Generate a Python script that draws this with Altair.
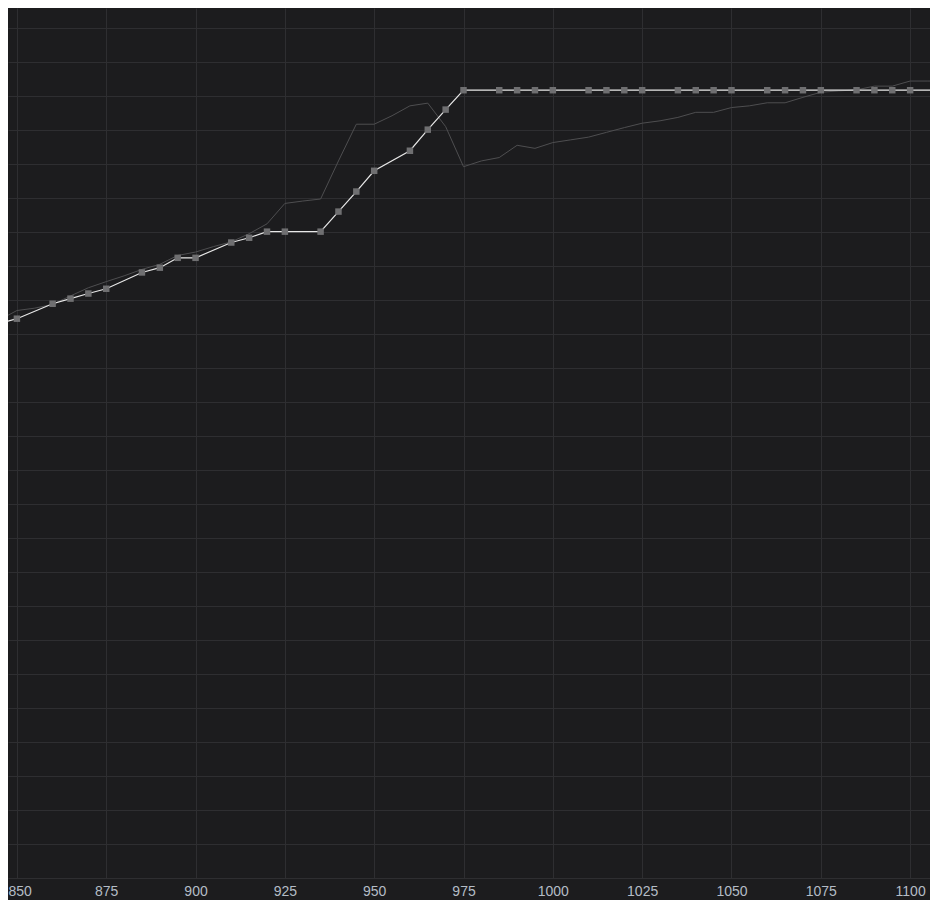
import altair as alt
import pandas as pd

# Series with square markers (white line)
main_x = [845, 850, 860, 865, 870, 875, 885, 890, 895, 900, 910, 915, 920, 925, 935,
          940, 945, 950, 960, 965, 970, 975, 985, 990, 995, 1000, 1010, 1015, 1020,
          1025, 1035, 1040, 1045, 1050, 1060, 1065, 1070, 1075, 1085, 1090, 1095, 1100, 1110]
main_y = [16.31, 16.45, 16.89, 17.04, 17.19, 17.33, 17.81, 17.95, 18.24, 18.24, 18.69,
          18.83, 19.01, 19.01, 19.01, 19.60, 20.19, 20.80, 21.39, 22.01, 22.60, 23.17,
          23.17, 23.17, 23.17, 23.17, 23.17, 23.17, 23.17, 23.17, 23.17, 23.17, 23.17,
          23.17, 23.17, 23.17, 23.17, 23.17, 23.17, 23.17, 23.17, 23.17, 23.17]

# Thin grey comparison series (no markers)
ref_x = [845, 850, 855, 860, 865, 870, 875, 880, 885, 890, 895, 900, 905, 910, 915, 920,
         925, 930, 935, 940, 945, 950, 955, 960, 965, 970, 975, 980, 985, 990, 995, 1000,
         1005, 1010, 1015, 1020, 1025, 1030, 1035, 1040, 1045, 1050, 1055, 1060, 1065,
         1070, 1075, 1080, 1085, 1090, 1095, 1100, 1105, 1110]
ref_y = [16.41, 16.69, 16.76, 16.87, 17.12, 17.36, 17.54, 17.71, 17.90, 18.05, 18.31,
         18.41, 18.57, 18.71, 18.95, 19.24, 19.84, 19.91, 19.97, 21.09, 22.17, 22.17,
         22.42, 22.71, 22.79, 22.10, 20.92, 21.09, 21.19, 21.55, 21.46, 21.63, 21.71,
         21.79, 21.93, 22.07, 22.20, 22.27, 22.37, 22.52, 22.52, 22.66, 22.71, 22.80,
         22.80, 22.96, 23.11, 23.15, 23.18, 23.29, 23.29, 23.44, 23.44, 23.44]

x_ticks = [850, 875, 900, 925, 950, 975, 1000, 1025, 1050, 1075, 1100]
y_grid = list(range(0, 26))

main_df = pd.DataFrame({"x": main_x, "y": main_y})
ref_df = pd.DataFrame({"x": ref_x, "y": ref_y})

BG = "#1c1c1e"
GRID = "#2e2e31"

x_enc = alt.X(
    "x:Q",
    scale=alt.Scale(domain=[847.51, 1105.56], nice=False, zero=False),
    axis=alt.Axis(
        values=x_ticks, format="d", title=None, domain=False, ticks=False, tickSize=0,
        labelPadding=6, labelFontSize=14, labelFont="Liberation Sans",
        labelColor="#b4bcc6", labelFlush=10, labelFlushOffset=9, labelOverlap=False,
        grid=True, gridColor=GRID, gridWidth=1,
    ),
)
y_enc = alt.Y(
    "y:Q",
    scale=alt.Scale(domain=[0, 25.588], nice=False, zero=False),
    axis=alt.Axis(
        values=y_grid, title=None, domain=False, ticks=False, labels=False,
        grid=True, gridColor=GRID, gridWidth=1,
    ),
)

ref_line = alt.Chart(ref_df).mark_line(
    color="#4e4e50", strokeWidth=1, clip=True
).encode(x=x_enc, y=y_enc)

main_line = alt.Chart(main_df).mark_line(
    color="#e8e8e8", strokeWidth=1.2, clip=True
).encode(x=x_enc, y=y_enc)

main_pts = alt.Chart(main_df).mark_point(
    shape="square", filled=True, size=42, color="#6f6f71", opacity=1, clip=True
).encode(x=x_enc, y=y_enc)

chart = alt.layer(ref_line, main_line, main_pts).properties(
    width=922,
    height=870,
    background=BG,
    padding={"left": 0, "top": 0, "right": 0, "bottom": 22},
    autosize=alt.AutoSizeParams(type="none"),
).configure_view(stroke=None)

chart.save("out.html", embed_options={"renderer": "svg", "actions": False})
